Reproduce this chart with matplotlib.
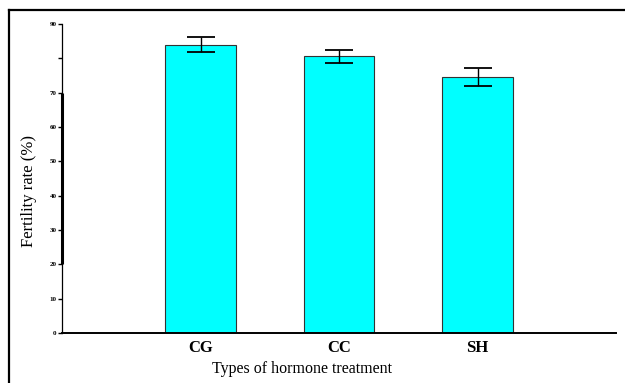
import matplotlib
matplotlib.use("Agg")
import matplotlib.pyplot as plt
from matplotlib.lines import Line2D

# data
treatments = ["CG", "CC", "SH"]
fertility = [84.0, 80.6, 74.6]
fertility_err = [2.2, 1.9, 2.7]
y_ticks = [0, 10, 20, 30, 40, 50, 60, 70, 80, 90]
y_tick_labels = ["0", "10", "20", "30", "40", "50", "60", "70", "", "90"]

plt.rcParams["font.family"] = ["Liberation Serif", "DejaVu Serif"]

fig = plt.figure(figsize=(6.25, 3.83), dpi=100)
ax = fig.add_axes([0.0992, 0.1305, 0.8864, 0.8068])

x = list(range(len(treatments)))
ax.bar(x, fertility, width=0.51, color="#00FFFF", edgecolor="#333333", linewidth=0.8, zorder=2)
ax.errorbar(x, fertility, yerr=fertility_err, fmt="none", ecolor="black",
            elinewidth=1.0, capsize=10, capthick=1.3, zorder=3)

ax.set_xlim(-1, 3)
ax.set_ylim(0, 90)
ax.set_xticks(x)
ax.set_xticklabels(treatments, fontsize=12, fontweight="bold")
ax.set_yticks(y_ticks)
ax.set_yticklabels(y_tick_labels, fontsize=5, fontweight="bold")
ax.tick_params(axis="x", length=0, pad=5)
ax.tick_params(axis="y", length=3, width=1, pad=1)

for s in ("top", "right"):
    ax.spines[s].set_visible(False)
ax.spines["left"].set_linewidth(0.9)
ax.spines["bottom"].set_linewidth(1.4)
# thick stretch of the y axis seen in the original
ax.vlines(-1, 20, 70, colors="black", linewidth=2.2, clip_on=False, zorder=4)

ax.set_ylabel("Fertility rate (%)", fontsize=12)
ax.yaxis.set_label_coords(-0.045, 0.46)
ax.set_xlabel("Types of hormone treatment", fontsize=11.5)
ax.xaxis.set_label_coords(0.433, -0.09)

# frame around the figure (left and top edges visible)
fig.add_artist(Line2D([9 / 625, 9 / 625], [0, 1 - 10 / 383], color="black", linewidth=1.6))
fig.add_artist(Line2D([9 / 625, 1], [1 - 10 / 383, 1 - 10 / 383], color="black", linewidth=1.6))

fig.savefig("out.png", dpi=100)
